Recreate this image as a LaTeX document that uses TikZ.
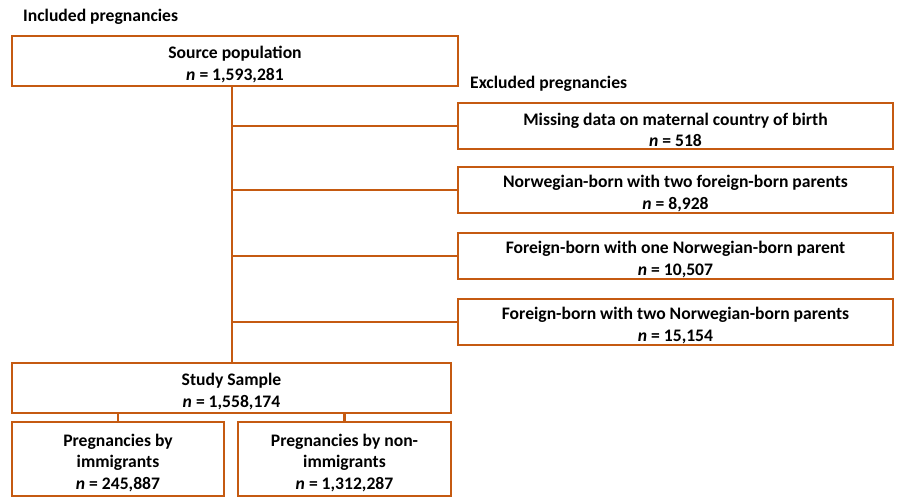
\documentclass[tikz,border=0pt]{standalone}
\usepackage{fontspec}
\setmainfont{Carlito}
\definecolor{boxorange}{HTML}{C55A11}
\newcommand{\toppad}{\rule{0pt}{20pt}}
\begin{document}
\begin{tikzpicture}[x=1pt,y=-1pt,
  box/.style={draw=boxorange, line width=2.6pt, fill=white, align=center, inner sep=0pt, outer sep=0pt,
    font=\fontsize{17.6}{21.7}\selectfont\bfseries},
  link/.style={draw=boxorange, line width=2.6pt},
  heading/.style={anchor=west, inner sep=0pt, font=\fontsize{17.6}{20}\selectfont\bfseries}]
\useasboundingbox (0,0) rectangle (898,498);
\node[heading] (inc) at (23,17) {Included pregnancies};
\node[heading] (exc) at (470,84) {Excluded pregnancies};
\node[box, minimum width=446pt, minimum height=50pt] (src) at (235,61) {\toppad Source population\\\textit{n} = 1,593,281};
\node[box, minimum width=435pt, minimum height=46pt] (ex1) at (675.5,126) {\toppad Missing data on maternal country of birth\\\textit{n} = 518};
\node[box, minimum width=435pt, minimum height=46pt] (ex2) at (675.5,190) {\toppad Norwegian-born with two foreign-born parents\\\textit{n} = 8,928};
\node[box, minimum width=435pt, minimum height=46pt] (ex3) at (675.5,256) {\toppad Foreign-born with one Norwegian-born parent\\\textit{n} = 10,507};
\node[box, minimum width=435pt, minimum height=46pt] (ex4) at (675.5,322) {\toppad Foreign-born with two Norwegian-born parents\\\textit{n} = 15,154};
\node[box, minimum width=439pt, minimum height=50pt] (study) at (231.5,388) {\toppad Study Sample\\\textit{n} = 1,558,174};
\node[box, minimum width=212pt, minimum height=74pt] (imm) at (118,459) {\toppad Pregnancies by\\immigrants\\\textit{n} = 245,887};
\node[box, minimum width=213pt, minimum height=74pt] (non) at (344.5,459) {\toppad Pregnancies by non-\\immigrants\\\textit{n} = 1,312,287};
\coordinate (trunk) at (232,0);
\draw[link] (src.south -| trunk) -- (study.north -| trunk);
\draw[link] (ex1.west) -- (ex1.west -| trunk);
\draw[link] (ex2.west) -- (ex2.west -| trunk);
\draw[link] (ex3.west) -- (ex3.west -| trunk);
\draw[link] (ex4.west) -- (ex4.west -| trunk);
\draw[link] (study.south -| imm.north) -- (imm.north);
\draw[link] (study.south -| non.north) -- (non.north);
\end{tikzpicture}
\end{document}
